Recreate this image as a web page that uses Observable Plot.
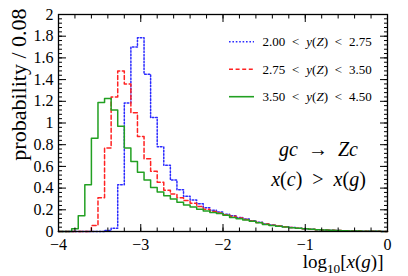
<!DOCTYPE html>
<html><head><meta charset="utf-8">
<script src="https://cdn.jsdelivr.net/npm/d3@7"></script>
<script src="https://cdn.jsdelivr.net/npm/@observablehq/plot@0.6"></script>
<style>
html,body{margin:0;padding:0;background:#fff;}
#chart{width:408px;height:276px;}
#chart svg, #chart svg text, #chart svg tspan{font-family:"Liberation Serif", "Times New Roman", "DejaVu Serif", serif !important;}
</style></head><body><div id="chart"></div>
<script>
// ---- data ----
const xMin = -4, binWidth = 0.08;
const seriesNames = ["2.00 < y(Z) < 2.75", "2.75 < y(Z) < 3.50", "3.50 < y(Z) < 4.50"];
const seriesColors = ["#2b2bff", "#ff2222", "#22a022"];
const blueValues = [0,0,0,0,0,0,0,0.01,0.03,0.43,1.185,1.70,1.785,1.45,1.05,0.78,0.61,0.475,0.385,0.325,0.29,0.255,0.22,0.197,0.18,0.16,0.145,0.13,0.115,0.1,0.085,0.07,0.06,0.051,0.044,0.037,0.031,0.026,0.021,0.017,0.014,0.011,0.009,0.007,0.005,0.004,0.003,0.002,0.0015,0.001];
const redValues = [0,0,0,0,0,0.055,0.31,0.77,1.24,1.48,1.36,1.095,0.875,0.67,0.555,0.455,0.38,0.345,0.31,0.285,0.26,0.23,0.205,0.185,0.17,0.155,0.14,0.125,0.11,0.097,0.083,0.068,0.058,0.05,0.043,0.036,0.031,0.026,0.021,0.017,0.014,0.011,0.009,0.007,0.005,0.004,0.003,0.002,0.0015,0.001];
const greenValues = [0,0,0.025,0.145,0.43,0.86,1.19,1.225,1.12,0.97,0.77,0.645,0.545,0.475,0.405,0.365,0.33,0.30,0.27,0.245,0.225,0.205,0.19,0.175,0.165,0.15,0.13,0.118,0.107,0.095,0.08,0.065,0.056,0.048,0.041,0.035,0.03,0.025,0.021,0.017,0.014,0.011,0.009,0.007,0.005,0.004,0.003,0.002,0.0015,0.001];
const xMajorTicks = [-4, -3, -2, -1, 0];
const xMinorTicks = d3.range(-4, 0.0001, 0.2).map(d => +d.toFixed(2));
const yMajorTicks = [0, 0.2, 0.4, 0.6, 0.8, 1, 1.2, 1.4, 1.6, 1.8, 2];
const yMinorTicks = d3.range(0, 2.0001, 0.04).map(d => +d.toFixed(2));
const yTitle = "probability / 0.08";
const xTitle = "log10[x(g)]";
const processLabel = "gc → Zc";
const cutLabel = "x(c) > x(g)";

// ---- build step outlines ----
function steps(values) {
  const pts = values.map((v, k) => ({x: xMin + k * binWidth, y: v}));
  pts.push({x: xMin + values.length * binWidth, y: values[values.length - 1]});
  return pts;
}
const series = [blueValues, redValues, greenValues];
const dashes = ["1.6,1.8", "4,2.6", null];

const FONT = "'Liberation Serif', 'Times New Roman', 'DejaVu Serif', serif";
const W = 408, H = 276, mL = 58, mR = 21, mT = 14, mB = 45;
const legendDy = [27.7, 55.3, 82.7];
const fmtX = d => d < 0 ? "\u2212" + Math.abs(d) : String(d);
const fmtY = d => String(+d.toFixed(1));

const plot = Plot.plot({
  width: W, height: H,
  marginLeft: mL, marginRight: mR, marginTop: mT, marginBottom: mB,
  x: {domain: [-4, 0], label: null},
  y: {domain: [0, 2], label: null},
  style: {fontFamily: FONT, background: "#fff", color: "#000", overflow: "visible"},
  marks: [
    ...[0, 1, 2].map(i => Plot.line(steps(series[i]), {
      x: "x", y: "y", curve: "step-after",
      stroke: seriesColors[i], strokeWidth: 1.5,
      strokeDasharray: dashes[i] || undefined
    })),
    Plot.axisX(xMajorTicks, {anchor: "bottom", tickSize: -7, tickPadding: 14, tickFormat: fmtX, fontSize: 16, label: null}),
    Plot.axisX(xMinorTicks, {anchor: "bottom", tickSize: -3.5, fill: "none", label: null}),
    Plot.axisX(xMajorTicks, {anchor: "top", tickSize: -7, fill: "none", label: null}),
    Plot.axisX(xMinorTicks, {anchor: "top", tickSize: -3.5, fill: "none", label: null}),
    Plot.axisY(yMajorTicks, {anchor: "left", tickSize: -8, tickPadding: 13, tickFormat: fmtY, fontSize: 16, label: null}),
    Plot.axisY(yMinorTicks, {anchor: "left", tickSize: -4, fill: "none", label: null}),
    Plot.axisY(yMajorTicks, {anchor: "right", tickSize: -8, fill: "none", label: null}),
    Plot.axisY(yMinorTicks, {anchor: "right", tickSize: -4, fill: "none", label: null}),
    Plot.frame({stroke: "#000", strokeWidth: 1.3}),
    Plot.text([yTitle], {frameAnchor: "top-left", rotate: -90, textAnchor: "end", lineAnchor: "bottom", dx: -33, dy: -6, fontSize: 22}),
    Plot.text([xTitle], {frameAnchor: "bottom-right", textAnchor: "end", lineAnchor: "bottom", dx: -4, dy: 36.5, fontSize: 19}),
    Plot.text([processLabel], {frameAnchor: "top-left", textAnchor: "middle", lineAnchor: "bottom", dx: 260, dy: 141, fontSize: 20}),
    Plot.text([cutLabel], {frameAnchor: "top-left", textAnchor: "middle", lineAnchor: "bottom", dx: 260, dy: 171, fontSize: 20}),
    ...seriesNames.map((s, i) => Plot.text([s], {frameAnchor: "top-left", textAnchor: "start", lineAnchor: "middle", dx: 204, dy: legendDy[i], fontSize: 13}))
  ]
});
document.getElementById("chart").append(plot);
d3.select(plot).attr("font-family", FONT).style("font-family", FONT);
d3.select(plot).selectAll("g, text").attr("font-family", FONT);

// ---- rich (math) text ----
const rich = new Map([
  [xTitle, [["log"], ["10", "sub"], ["["], ["x", "i"], ["("], ["g", "i"], [")]"]]],
  [processLabel, [["g", "i"], ["c", "i"], ["\u2002\u2192\u2002"], ["Z", "i"], ["c", "i"]]],
  [cutLabel, [["x", "i"], ["("], ["c", "i"], [")\u2002>\u2002"], ["x", "i"], ["("], ["g", "i"], [")"]]],
  ...seriesNames.map(s => {
    const [a, , , , b] = s.split(" ");
    return [s, [[a + " < "], ["y", "i"], ["("], ["Z", "i"], [") < " + b]]];
  })
]);
d3.select(plot).selectAll("text").each(function() {
  const key = this.textContent;
  const segs = rich.get(key);
  if (!segs) return;
  const el = d3.select(this);
  const fs = parseFloat(getComputedStyle(this).fontSize) || 16;
  el.text(null);
  if (seriesNames.includes(key)) el.style("word-spacing", "3.6px");
  let shift = 0;
  segs.forEach(([s, st]) => {
    const t = el.append("tspan").text(s);
    if (st === "i") t.attr("font-style", "italic");
    if (st === "sub") { t.attr("font-size", fs * 0.7).attr("dy", fs * 0.25); shift = fs * 0.25; }
    else if (shift) { t.attr("dy", -shift); shift = 0; }
  });
});

// ---- legend swatches ----
const g = d3.select(plot).append("g").attr("class", "legend-swatches");
seriesNames.forEach((s, i) => {
  g.append("line")
    .attr("x1", mL + 171).attr("x2", mL + 196)
    .attr("y1", mT + legendDy[i]).attr("y2", mT + legendDy[i])
    .attr("stroke", seriesColors[i]).attr("stroke-width", 1.6)
    .attr("stroke-dasharray", dashes[i]);
});
</script></body></html>
